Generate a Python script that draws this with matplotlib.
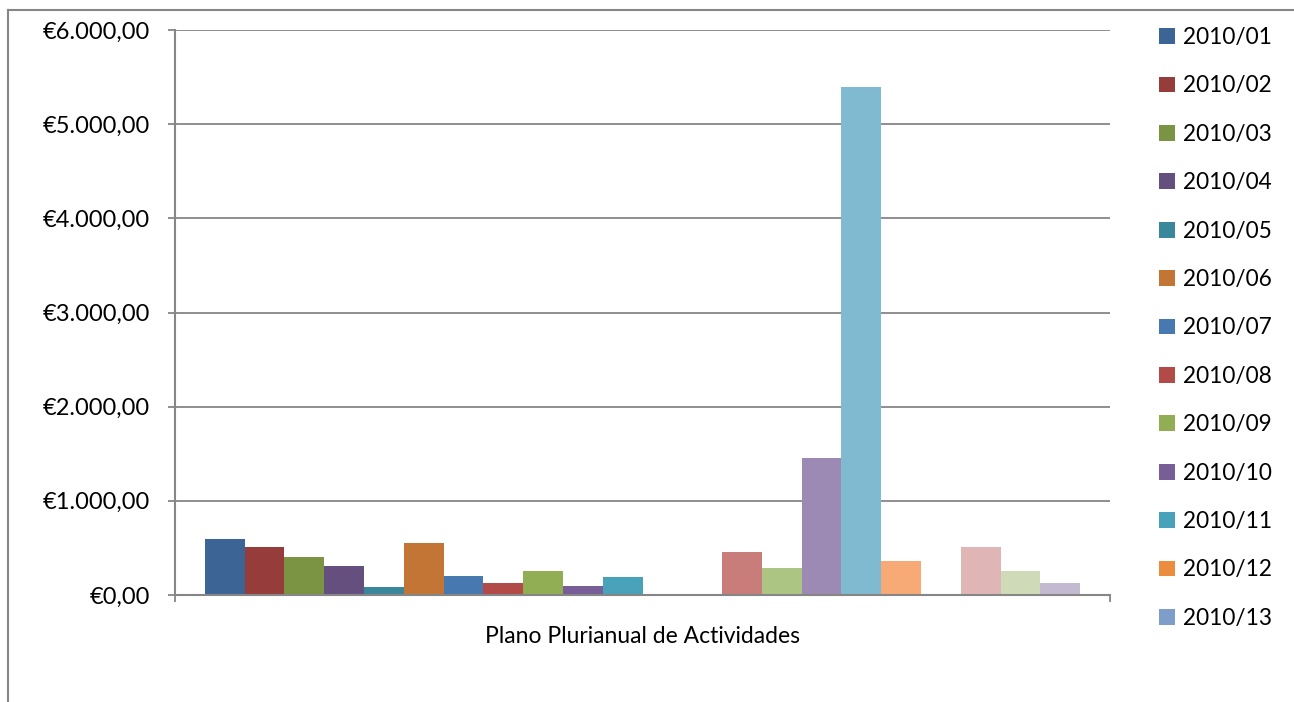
import matplotlib.pyplot as plt
from matplotlib.lines import Line2D
from matplotlib.patches import Patch
from matplotlib.ticker import FuncFormatter, FixedLocator

plt.rcParams['font.family'] = ['Lato', 'DejaVu Sans']

category = 'Plano Plurianual de Actividades'
series = ['2010/%02d' % i for i in range(1, 23)]
values = [600, 505, 403, 308, 85, 552, 202, 127, 255, 96, 191, 0,
          0, 457, 287, 1455, 5395, 361, 0, 510, 255, 127]
colors = ['#3C6595', '#963C3B', '#7A9444', '#644F7F', '#39879A', '#C27535',
          '#4878B0', '#B24A48', '#92AE55', '#775E97', '#47A2BA', '#EC8C3F',
          '#7F9DC9', '#C97D7A', '#ADC583', '#9C8AB4', '#7FBAD0', '#F7A976',
          '#A8BCDD', '#DFB6B5', '#CFDBB8', '#C3B9D1']
yticks = [0, 1000, 2000, 3000, 4000, 5000, 6000]

W, H = 1294, 702
fig = plt.figure(figsize=(W / 100, H / 100), dpi=100)
ax = fig.add_axes([175 / W, 1 - 595 / H, (1110 - 175) / W, (595 - 30) / H])

n = len(values)
w = 1 / (n + 1.5)
start = -n * w / 2
for i, (v, c) in enumerate(zip(values, colors)):
    ax.bar(start + (i + 0.5) * w, v, width=w, color=c, linewidth=0, zorder=3)

grid_c = '#868686'
ax.set_xlim(-0.5, 0.5)
ax.set_ylim(0, 6000)
ax.set_yticks(yticks)


def euro(v, pos):
    s = '{:,.2f}'.format(v)
    s = s.replace(',', 'X').replace('.', ',').replace('X', '.')
    return '€' + s


ax.yaxis.set_major_formatter(FuncFormatter(euro))
ax.yaxis.grid(True, color=grid_c, linewidth=1.3, zorder=0)
ax.set_xticks([0])
ax.set_xticklabels([category])
ax.xaxis.set_minor_locator(FixedLocator([-0.5, 0.5]))
ax.tick_params(axis='x', which='major', length=0, pad=22, labelsize=16.5)
ax.tick_params(axis='x', which='minor', length=5, width=1.3, color=grid_c)
ax.tick_params(axis='y', length=5, width=1.3, color=grid_c, labelsize=17, pad=13)

for side in ['top', 'right']:
    ax.spines[side].set_visible(False)
for side in ['left', 'bottom']:
    ax.spines[side].set_color(grid_c)
    ax.spines[side].set_linewidth(1.5)
ax.spines['bottom'].set_zorder(4)

# legend shows only first 13 entries (rest cut off)
handles = [Patch(facecolor=c, edgecolor='none') for c in colors[:13]]
fig.legend(handles, series[:13], loc='upper left',
           bbox_to_anchor=(1150 / W, 1 - 18 / H), frameon=False,
           fontsize=16.3, handlelength=0.7, handleheight=0.7,
           handletextpad=0.35, labelspacing=1.21, borderaxespad=0)

# chart area border
fig.add_artist(Line2D([8 / W, 8 / W], [0, 1 - 10 / H], color=grid_c, lw=1.5))
fig.add_artist(Line2D([8 / W, 1], [1 - 10 / H, 1 - 10 / H], color=grid_c, lw=1.5))

fig.savefig('out.png', dpi=100)
